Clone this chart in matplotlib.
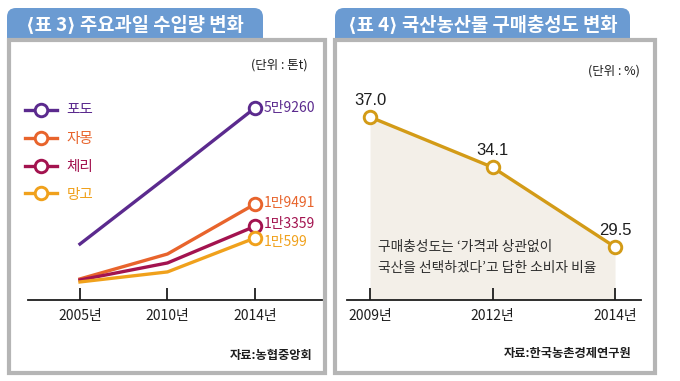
import numpy as np
import matplotlib
matplotlib.use('Agg')
import matplotlib.pyplot as plt
from matplotlib.patches import FancyBboxPatch, Rectangle

plt.rcParams['font.family'] = ['Noto Sans CJK KR', 'DejaVu Sans']

# ---------------- data ----------------
import_years = ['2005년', '2010년', '2014년']
fruits = ['포도', '자몽', '체리', '망고']
grape = [9300, 28700, 59260]
grapefruit = [3450, 7340, 19491]
cherry = [3320, 5780, 13359]
mango = [3080, 4400, 10599]
fruit_colors = ['#5b2a8e', '#e8642c', '#a3134f', '#f0a11c']
label_dy = [0, 1, 1.5, -3]   # vertical nudges of end labels (points)

loyalty_years = ['2009년', '2012년', '2014년']
loyalty = [37.0, 34.1, 29.5]
gold = '#d39b17'

titles = ['⟨표 3⟩ 주요과일 수입량 변화', '⟨표 4⟩ 국산농산물 구매충성도 변화']
units = ['(단위 : 톤t)', '(단위 : %)']
sources = ['자료:농협중앙회', '자료:한국농촌경제연구원']
note_lines = ['구매충성도는 ‘가격과 상관없이', '국산을 선택하겠다’고 답한 소비자 비율']

W, H = 680, 381
fig = plt.figure(figsize=(W / 100, H / 100), dpi=100)
bg = fig.add_axes([0, 0, 1, 1])
bg.set_xlim(0, W)
bg.set_ylim(H, 0)
bg.axis('off')


def px_axes(x0, x1, ytop, ybot):
    ax = fig.add_axes([x0 / W, 1 - ybot / H, (x1 - x0) / W, (ybot - ytop) / H])
    ax.patch.set_visible(False)
    return ax


def ftext(x, y, s, **kw):
    return fig.text(x / W, 1 - y / H, s, **kw)


BLUE = '#6b9bd2'
GRAY = '#b5b5b5'
INK = '#1e1e1e'
panels = [(7, 263, 9, 325), (335, 630, 335, 655)]
for (tx0, tx1, bx0, bx1), title in zip(panels, titles):
    bg.add_patch(FancyBboxPatch((tx0, 8), tx1 - tx0, 50,
                                boxstyle='round,pad=0,rounding_size=9',
                                fc=BLUE, ec='none', zorder=1))
    bg.add_patch(Rectangle((bx0, 40), bx1 - bx0, 373 - 40, fc='white',
                           ec=GRAY, lw=3, zorder=2))
    bg.text((tx0 + tx1) / 2, 25, title, color='white', fontsize=13.5,
            fontweight='bold', ha='center', va='center', zorder=3)


def fmt_man(v):
    return f'{v // 10000}만{v % 10000}'


# ---------------- left chart ----------------
axL = px_axes(28, 322, 60, 300)
axL.set_yscale('function', functions=(np.sqrt, np.square))
xs = np.arange(len(import_years))
series = [grape, grapefruit, cherry, mango]
for name, vals, c, dy in zip(fruits, series, fruit_colors, label_dy):
    axL.plot(xs, vals, color=c, lw=2.4, marker='o', markevery=[len(vals) - 1],
             ms=9, mfc='white', mec=c, mew=2.1, label=name, zorder=3)
    axL.annotate(fmt_man(vals[-1]), (xs[-1], vals[-1]), xytext=(6, dy),
                 textcoords='offset points', color=c, fontsize=10,
                 ha='left', va='center')
axL.set_xlim(-0.594, 2.766)
axL.set_ylim(1296, 87140)
axL.set_xticks(xs)
axL.set_xticklabels(import_years)
axL.set_yticks([])
axL.minorticks_off()
for s in ['left', 'top', 'right']:
    axL.spines[s].set_visible(False)
axL.spines['bottom'].set_color(INK)
axL.spines['bottom'].set_linewidth(1.3)
axL.tick_params(axis='x', direction='in', length=9, width=1.3, color=INK,
                labelsize=10, pad=6.5, labelcolor=INK)
axL.tick_params(axis='y', which='both', left=False, labelleft=False)
leg = axL.legend(loc='upper left', bbox_to_anchor=(25 / W, 1 - 104 / H),
                 bbox_transform=fig.transFigure, frameon=False, fontsize=10.5,
                 handlelength=2.2, handletextpad=0.65, labelspacing=0.95,
                 borderpad=0, borderaxespad=0, numpoints=1)
for t, c in zip(leg.get_texts(), fruit_colors):
    t.set_color(c)

ftext(308, 65, units[0], ha='right', va='center', fontsize=9, color=INK)
ftext(313, 355, sources[0], ha='right', va='center', fontsize=8.8,
      fontweight='bold', color=INK)

# ---------------- right chart ----------------
axR = px_axes(347, 641, 60, 300)
xr = np.arange(len(loyalty_years))
axR.set_xlim(-0.188, 2.212)
axR.set_ylim(26.44, 40.29)
axR.fill_between(xr, loyalty, axR.get_ylim()[0], color='#f3efe8', lw=0, zorder=1)
axR.plot(xr, loyalty, color=gold, lw=2.4, marker='o', ms=9, mfc='white',
         mec=gold, mew=2.1, zorder=3)
for x, v in zip(xr, loyalty):
    axR.annotate(f'{v:.1f}', (x, v), xytext=(0, 6.5), textcoords='offset points',
                 ha='center', va='bottom', fontsize=12,
                 family=['Liberation Sans', 'DejaVu Sans'], color=INK)
axR.set_xticks(xr)
axR.set_xticklabels(loyalty_years)
axR.set_yticks([])
for s in ['left', 'top', 'right']:
    axR.spines[s].set_visible(False)
axR.spines['bottom'].set_color(INK)
axR.spines['bottom'].set_linewidth(1.3)
axR.tick_params(axis='x', direction='in', length=9, width=1.3, color=INK,
                labelsize=10, pad=6.5, labelcolor=INK)

ftext(378, 247, note_lines[0], ha='left', va='center', fontsize=9.9, color='#2e2e2e')
ftext(378, 268, note_lines[1], ha='left', va='center', fontsize=9.9, color='#2e2e2e')
ftext(640, 71, units[1], ha='right', va='center', fontsize=9, color=INK)
ftext(632, 354, sources[1], ha='right', va='center', fontsize=8.8,
      fontweight='bold', color=INK)

fig.savefig('out.png', dpi=100)
